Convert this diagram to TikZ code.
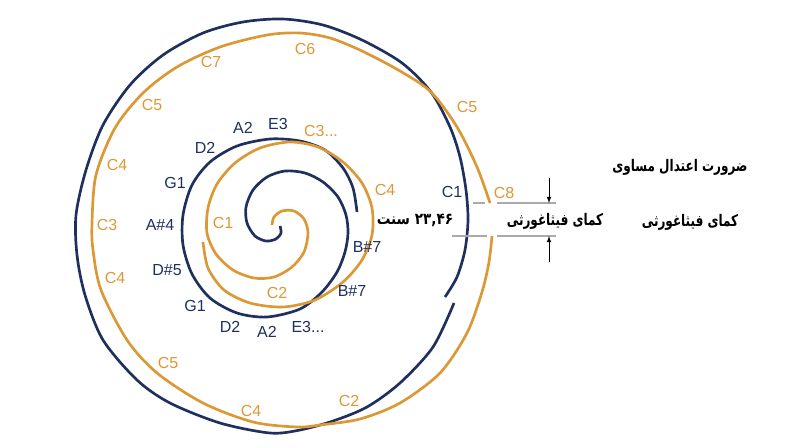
\documentclass[tikz,border=0pt]{standalone}
\usepackage{fontspec}
\setmainfont{Liberation Sans}
\newfontfamily\persianfont[Script=Arabic]{DejaVu Sans}
\TeXXeTstate=1
\usepackage{tikz}
\usetikzlibrary{arrows}
\definecolor{spiralnavy}{RGB}{31,47,94}
\definecolor{spiralorange}{RGB}{220,152,52}
\definecolor{dimgray}{RGB}{170,170,170}
\tikzset{
        navyline/.style = {draw=spiralnavy, line width=2pt},
        orangeline/.style = {draw=spiralorange, line width=2pt},
        navylabel/.style = {text=spiralnavy, inner sep=0pt,
            font=\fontsize{12}{14}\selectfont},
        orangelabel/.style = {text=spiralorange, inner sep=0pt,
            font=\fontsize{12}{14}\selectfont},
        dimline/.style = {draw=dimgray, line width=1pt},
        arrow/.style = {draw, -latex, line width=0.6pt},
        fatext/.style = {inner sep=0pt,
            font=\persianfont\bfseries\fontsize{12}{14}\selectfont},
    }
\newcommand{\fatxt}[2][0.75]{\scalebox{#1}[1]{\beginR #2\endR}}

\begin{document}
\begin{tikzpicture}[x=0.75pt,y=0.75pt,yscale=-1,xscale=1]
\useasboundingbox (0,0) rectangle (800,447);

%Curve Lines
\draw [navyline] plot [smooth] coordinates {(280,226) (281,233) (276,239) (266,241) (255,236) (247,223) (246,207) (253,190) (267,177) (285,171) (305,173) (323,182) (338,197) (346,215) (348,233) (345,252) (337,272) (322,292) (300,309) (267,317) (237,313) (210,298) (192,274) (183,245) (183,215) (192,185) (210,162) (237,146) (270,139) (300,141) (325,150) (343,168) (353,188) (357,212)};
%Curve Lines
\draw [orangeline] plot [smooth] coordinates {(272,225) (274,217) (282,211) (294,211) (304,219) (308,233) (304,252) (292,267) (274,277) (254,278) (233,270) (216,254) (207,233) (208,208) (217,184) (235,163) (260,148) (290,142) (318,147) (343,162) (362,183) (372,208) (372,235) (362,260) (343,282) (315,300) (283,307) (250,303) (224,290) (208,268) (203,242)};
%Curve Lines
\draw [navyline] plot [smooth] coordinates {(445,297) (457,277) (465,250) (468,220) (466,190) (460,157) (450,127) (431,92) (402,63) (362,40) (323,25) (283,19) (243,22) (203,33) (163,55) (130,85) (103,125) (86,170) (76,215) (77,255) (85,295) (103,340) (137,380) (170,403) (220,423) (270,433) (300,430) (333,421) (367,407) (400,383) (433,347) (454,303)};
%Curve Lines
\draw [orangeline] plot [smooth] coordinates {(492,236) (489,262) (482,292) (467,333) (440,373) (400,403) (360,419) (320,425) (297,427) (253,422) (203,403) (157,373) (127,340) (101,290) (93,250) (92,223) (96,175) (115,128) (143,93) (177,67) (220,47) (267,35) (300,33) (330,38) (362,51) (400,71) (431,92) (457,127) (477,167) (490,203)};

%Straight Lines
\coordinate (dimUpA) at (473,203);
\coordinate (dimUpB) at (485,203);
\coordinate (dimUpC) at (497,203);
\coordinate (dimUpD) at (556,203);
\coordinate (dimLoA) at (452,236);
\coordinate (dimLoB) at (487,236);
\coordinate (dimLoC) at (497,236);
\coordinate (dimLoD) at (556,236);
\draw [dimline] (dimUpA) -- (dimUpB) (dimUpC) -- (dimUpD);
\draw [dimline] (dimLoA) -- (dimLoB) (dimLoC) -- (dimLoD);
%Straight Lines
\coordinate (arrUpStart) at (549,178);
\coordinate (arrLoStart) at (549,262);
\draw [arrow] (arrUpStart) -- (dimUpD -| arrUpStart);
\draw [arrow] (arrLoStart) -- (dimLoD -| arrLoStart);

% Text Node
\node [navylabel] (nA2up) at (243,128) {A2};
\node [navylabel] (nE3up) at (278,124) {E3};
\node [navylabel] (nD2up) at (205,148) {D2};
\node [navylabel] (nG1up) at (175,183) {G1};
\node [navylabel] (nAsharp) at (160,225) {A\#4};
\node [navylabel] (nDsharp) at (167,270) {D\#5};
\node [navylabel] (nG1lo) at (195,306) {G1};
\node [navylabel] (nD2lo) at (230,327) {D2};
\node [navylabel] (nA2lo) at (267,332) {A2};
\node [navylabel] (nE3lo) at (308,327) {E3...};
\node [navylabel] (nBsharpUp) at (367,247) {B\#7};
\node [navylabel] (nBsharpLo) at (352,291) {B\#7};
\node [navylabel] (nC1out) at (452,192) {C1};
% Text Node
\node [orangelabel] (oC6) at (305,49) {C6};
\node [orangelabel] (oC7) at (211,62) {C7};
\node [orangelabel] (oC5a) at (152,105) {C5};
\node [orangelabel] (oC4a) at (117,165) {C4};
\node [orangelabel] (oC3a) at (107,225) {C3};
\node [orangelabel] (oC4b) at (115,278) {C4};
\node [orangelabel] (oC5b) at (168,363) {C5};
\node [orangelabel] (oC4c) at (251,411) {C4};
\node [orangelabel] (oC2out) at (349,401) {C2};
\node [orangelabel] (oC5c) at (467,107) {C5};
\node [orangelabel] (oC3in) at (321,131) {C3...};
\node [orangelabel] (oC4in) at (385,190) {C4};
\node [orangelabel] (oC1in) at (223,223) {C1};
\node [orangelabel] (oC2in) at (277,293) {C2};
\node [orangelabel] (oC8) at (504,193) {C8};
% Text Node
\node [fatext] (tEqual) at (680,167) {\fatxt{ضرورت اعتدال مساوی}};
\node [fatext] (tCommaR) at (690,222) {\fatxt{کمای فیثاغورثی}};
\node [fatext] (tCommaM) at (555,221) {\fatxt{کمای فیثاغورثی}};
\node [fatext] (tCent) at (415,220) {\fatxt[0.85]{\beginL ۲۳,۴۶\endL{} سنت}};

\end{tikzpicture}
\end{document}
